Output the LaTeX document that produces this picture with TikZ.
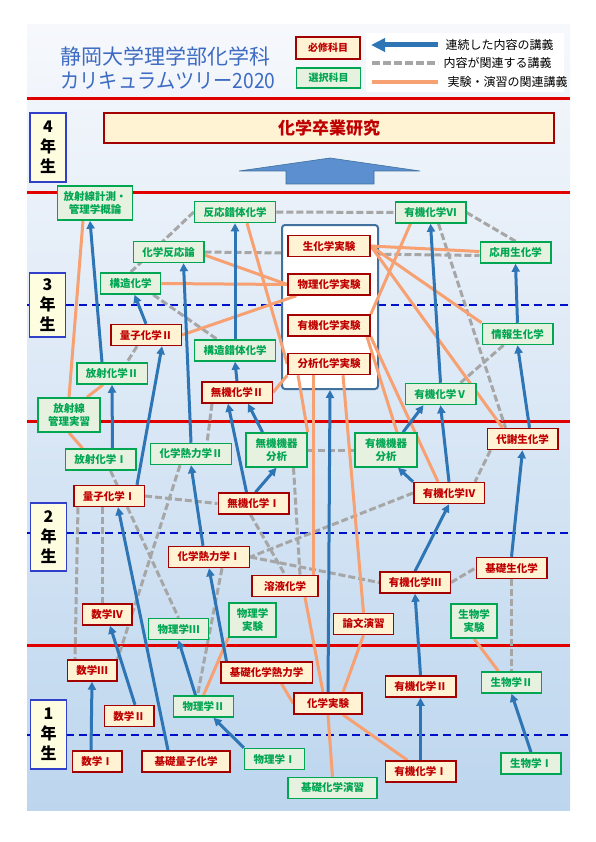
\documentclass[tikz,border=0pt]{standalone}
\usepackage{fontspec}
\usepackage{graphicx}
\setmainfont{Noto Sans CJK JP}
\usetikzlibrary{arrows.meta}
\pgfdeclarelayer{bg}
\pgfdeclarelayer{dash}
\pgfdeclarelayer{box}
\pgfdeclarelayer{lines}
\pgfsetlayers{bg,dash,box,lines,main}

\definecolor{hred}{HTML}{A50000}
\definecolor{htext}{HTML}{C00000}
\definecolor{hfill}{HTML}{FFF3D4}
\definecolor{sgreen}{HTML}{00A651}
\definecolor{sfill}{HTML}{E6F2DF}
\definecolor{arrowblue}{HTML}{2E75B6}
\definecolor{dashgray}{HTML}{A6A6A6}
\definecolor{exporange}{HTML}{F7A072}
\definecolor{titleblue}{HTML}{3D6BC3}
\definecolor{linered}{HTML}{E00000}
\definecolor{lineblue}{HTML}{0010C8}
\definecolor{yearblue}{HTML}{3040C8}
\definecolor{boxedge}{HTML}{41719C}
\definecolor{bgtop}{HTML}{F6F8FC}
\definecolor{bgbot}{HTML}{BDD6EE}
\definecolor{bigarrow}{HTML}{5B8FD0}

\begin{document}
\begin{tikzpicture}[x=1pt, y=-1pt,
  font=\fontsize{10.5}{13}\selectfont\bfseries,
  req/.style={draw=hred, fill=hfill, text=htext, line width=1.5pt, minimum height=21pt, inner xsep=9pt, inner ysep=2pt},
  opt/.style={draw=sgreen, fill=sfill, text=sgreen, line width=1.5pt, minimum height=21pt, inner xsep=9pt, inner ysep=2pt},
  two/.style={align=center, minimum height=34pt, inner xsep=6pt, font=\fontsize{10.5}{12.5}\selectfont\bfseries},
  yearbox/.style={draw=yearblue, fill=yellow!12, line width=1.5pt, text=black, align=center, inner sep=0pt, minimum width=36pt, font=\fontsize{16}{20}\selectfont\bfseries},
  renzoku/.style={draw=arrowblue, line width=3pt, -{Triangle[length=8pt,width=8pt]}},
  kanren/.style={draw=dashgray, line width=3pt, dash pattern=on 7pt off 3pt},
  jisshu/.style={draw=exporange, line width=3pt}]

\useasboundingbox (0,0) rectangle (596,842);

\begin{pgfonlayer}{bg}
\shade[top color=bgtop, bottom color=bgbot] (27,25) rectangle (570,810);
\fill[white] (366,33) rectangle (564,92);
\foreach \y in {99,193,421,645}
  \draw[linered, line width=3pt] (27,\y) -- (570,\y);
\foreach \y in {305,533,735}
  \draw[lineblue, line width=2pt, dash pattern=on 8pt off 5pt] (27,\y) -- (570,\y);
\filldraw[fill=bigarrow, draw=boxedge, line width=0.6pt] (330,158) -- (420,171) -- (374,171) -- (374,184)
  -- (286,184) -- (286,171) -- (239,171) -- cycle;
\end{pgfonlayer}

% title and legend
\node[anchor=west, text=titleblue, font=\fontsize{21}{24}\selectfont] (title1) at (57,56) {静岡大学理学部化学科};
\node[anchor=west, text=titleblue, font=\fontsize{21}{24}\selectfont] (title2) at (57,81) {\scalebox{0.915}[1]{カリキュラムツリー2020}};
\node[req, minimum width=64pt, minimum height=22pt, font=\fontsize{10}{12}\selectfont\bfseries] (hisshu) at (328,48) {必修科目};
\node[opt, minimum width=64pt, minimum height=20pt, font=\fontsize{10}{12}\selectfont\bfseries] (sentaku) at (328.5,78) {選択科目};
\coordinate (l1a) at (438,45);
\coordinate (l1b) at (371,45);
\coordinate (l2a) at (372,63);
\coordinate (l2b) at (438,63);
\coordinate (l3a) at (372,82);
\coordinate (l3b) at (438,82);
\draw[renzoku, line width=5pt, -{Triangle[length=14pt,width=13pt]}] (l1a) -- (l1b);
\draw[kanren, line width=4pt, dash pattern=on 8pt off 3pt] (l2a) -- (l2b);
\draw[jisshu, line width=4pt] (l3a) -- (l3b);
\node[anchor=west, font=\fontsize{12}{14}\selectfont] (l1t) at (442,45) {連続した内容の講義};
\node[anchor=west, font=\fontsize{12}{14}\selectfont] (l2t) at (440,63) {内容が関連する講義};
\node[anchor=west, font=\fontsize{12}{14}\selectfont] (l3t) at (444,82) {実験・演習の関連講義};

% years
\node[yearbox, minimum height=69pt] (nen4) at (48,147.5) {4\\年\\生};
\node[yearbox, minimum height=64pt] (nen3) at (47.5,305) {3\\年\\生};
\node[yearbox, minimum height=68pt] (nen2) at (48.5,537) {2\\年\\生};
\node[yearbox, minimum height=69pt] (nen1) at (48.5,734.5) {1\\年\\生};

\node[req, minimum width=450pt, minimum height=30pt, line width=2pt, font=\fontsize{17}{20}\selectfont\bfseries] (sotsuken) at (329,128) {化学卒業研究};

\begin{pgfonlayer}{box}
\node[draw=boxedge, fill=white, line width=2pt, rounded corners=3pt, minimum width=96pt, minimum height=164pt] (jikken) at (330,307) {};
\end{pgfonlayer}

% elective
\node[opt, two] (keisoku) at (95,203) {放射線計測・\\管理学概論};
\node[opt] (hannosakutai) at (235,212) {反応錯体化学};
\node[opt] (yuki6) at (430.5,212.5) {有機化学Ⅵ};
\node[opt] (hannoron) at (168.5,252) {化学反応論};
\node[opt] (oyoseika) at (515.5,252.5) {応用生化学};
\node[opt] (kozo) at (130.5,283.5) {構造化学};
\node[opt] (johoseika) at (517.5,334) {情報生化学};
\node[opt] (kozosakutai) at (235,350.5) {構造錯体化学};
\node[opt] (hosha2) at (112,373.5) {放射化学Ⅱ};
\node[opt] (yuki5) at (440.5,394) {有機化学Ⅴ};
\node[opt, two, minimum width=62pt] (kanrijisshu) at (69,415) {放射線\\管理実習};
\node[opt] (hosha1) at (100.5,459.5) {放射化学Ⅰ};
\node[opt] (netsu2) at (191,454) {化学熱力学Ⅱ};
\node[opt, two, minimum width=61pt] (mukikiki) at (276.5,450) {無機機器\\分析};
\node[opt, two, minimum width=62pt] (yukikiki) at (386,450) {有機機器\\分析};
\node[opt] (butsuri3) at (178.5,629) {物理学Ⅲ};
\node[opt, two, minimum width=47pt] (butsurijikken) at (252.5,620) {物理学\\実験};
\node[opt, two, minimum width=46pt] (seibutsujikken) at (474,621) {生物学\\実験};
\node[opt] (butsuri2) at (203.5,706.5) {物理学Ⅱ};
\node[opt] (seibutsu2) at (511.5,682.5) {生物学Ⅱ};
\node[opt] (butsuri1) at (274.5,759) {物理学Ⅰ};
\node[opt] (seibutsu1) at (531,763.5) {生物学Ⅰ};
\node[opt, minimum width=89pt] (kisoenshu) at (332.5,788) {基礎化学演習};

% required
\node[req, minimum width=82pt] (seikajikken) at (329,246) {生化学実験};
\node[req, minimum width=82pt] (butsurikajikken) at (329,284.5) {物理化学実験};
\node[req, minimum width=82pt] (yukijikken) at (329,325.5) {有機化学実験};
\node[req, minimum width=82pt] (bunsekijikken) at (329,364) {分析化学実験};
\node[req] (ryoshi2) at (146,335) {量子化学Ⅱ};
\node[req] (muki2) at (237,392.5) {無機化学Ⅱ};
\node[req] (taisha) at (522.5,439) {代謝生化学};
\node[req] (ryoshi1) at (109,496) {量子化学Ⅰ};
\node[req] (muki1) at (253.5,503.5) {無機化学Ⅰ};
\node[req] (yuki4) at (449,493) {有機化学Ⅳ};
\node[req] (netsu1) at (209,557) {化学熱力学Ⅰ};
\node[req, minimum width=66pt] (yoeki) at (285,586) {溶液化学};
\node[req] (yuki3) at (415,582.5) {有機化学Ⅲ};
\node[req] (kisoseika) at (511.5,568) {基礎生化学};
\node[req] (sugaku4) at (107,614.5) {数学Ⅳ};
\node[req] (ronbun) at (363.5,624) {論文演習};
\node[req] (sugaku3) at (92,670.5) {数学Ⅲ};
\node[req] (kisonetsu) at (266.5,672.5) {基礎化学熱力学};
\node[req] (yuki2) at (420.5,686.5) {有機化学Ⅱ};
\node[req] (sugaku2) at (129,716) {数学Ⅱ};
\node[req, minimum width=68pt] (kagakujikken) at (328,703.5) {化学実験};
\node[req] (sugaku1) at (97,761.5) {数学Ⅰ};
\node[req, minimum width=88pt] (kisoryoshi) at (186,761.5) {基礎量子化学};
\node[req] (yuki1) at (420.5,771.5) {有機化学Ⅰ};

\begin{pgfonlayer}{dash}
\draw[kanren] (hannosakutai.west) -- (kozo.north);
\draw[kanren] (hannoron.east) -- ([yshift=-3pt]oyoseika.west);
\draw[kanren] (hannosakutai.east) -- (yuki6.west);
\draw[kanren] ([xshift=-8pt]kozo.south east) -- ([xshift=-18pt]kozosakutai.north);
\draw[kanren] (yuki6.east) -- (oyoseika.north);
\draw[kanren] ([xshift=8pt]yuki6.south) -- ([xshift=-17pt]taisha.north);
\draw[kanren] ([xshift=-14pt]johoseika.south) -- ([xshift=20pt]yuki5.north);
\draw[kanren] ([xshift=-32pt]taisha.south) -- ([xshift=26pt]yuki4.north);
\draw[kanren] (yuki4.west) -- (netsu1.east);
\draw[kanren] (netsu1.east) -- (yuki3.west);
\draw[kanren] (yuki3.east) -- (kisoseika.west);
\draw[kanren] (kisoseika.south) -- (seibutsu2.north);
\draw[kanren] (mukikiki.east) -- (yukikiki.west);
\draw[kanren] ([xshift=17pt]mukikiki.south) -- ([xshift=15pt]yoeki.north);
\draw[kanren] ([xshift=-3pt]muki1.south) -- (yoeki.north);
\draw[kanren] ([xshift=-25pt]muki2.south) -- ([xshift=16pt]netsu2.north);
\draw[kanren] ([xshift=-9pt]ryoshi2.south) -- ([xshift=15pt]hosha2.north);
\draw[kanren] (ryoshi1.east) -- (muki1.west);
\draw[kanren] ([xshift=5pt]ryoshi1.south west) -- ([xshift=-17pt]sugaku3.north);
\draw[kanren] ([xshift=-7pt]ryoshi1.south) -- ([xshift=-5pt]sugaku4.north);
\draw[kanren] ([xshift=-11pt]netsu2.south) -- (sugaku3.north east);
\draw[kanren] ([xshift=10pt]hosha1.south) -- (butsuri3.north);
\draw[kanren] ([xshift=13pt]netsu1.south) -- ([xshift=-6pt]butsuri2.north);
\end{pgfonlayer}

\begin{pgfonlayer}{lines}
\draw[jisshu] (kanrijisshu.north) -- ([xshift=-12pt]keisoku.south);
\draw[jisshu] ([xshift=18pt]kanrijisshu.north) -- ([xshift=-9pt]hosha2.south);
\draw[jisshu] (kanrijisshu.south) -- ([xshift=-18pt]hosha1.north);
\draw[jisshu] ([yshift=-3pt]hannoron.east) -- (butsurikajikken.west);
\draw[jisshu] (kozo.east) -- (butsurikajikken.west);
\draw[jisshu] (ryoshi2.east) -- ([xshift=9pt]butsurikajikken.south west);
\draw[jisshu] ([xshift=12pt]hannosakutai.south) -- (bunsekijikken.west);
\draw[jisshu] (muki2.east) -- (bunsekijikken.south west);
\draw[jisshu] (mukikiki.north east) -- ([xshift=-31pt]bunsekijikken.south);
\draw[jisshu] ([xshift=-16pt]bunsekijikken.south) -- ([xshift=28pt]yoeki.north);
\draw[jisshu] ([xshift=14pt]bunsekijikken.south) -- (ronbun.north);
\draw[jisshu] ([xshift=38pt]yukijikken.south) -- ([xshift=11pt]yukikiki.north);
\draw[jisshu] (yukijikken.south east) -- ([xshift=-11pt]yuki4.north);
\draw[jisshu] (yukijikken.north east) -- ([xshift=-20pt]yuki6.south);
\draw[jisshu] (seikajikken.east) -- ([yshift=1pt]oyoseika.west);
\draw[jisshu] (seikajikken.east) -- (johoseika.north west);
\draw[jisshu] (seikajikken.east) -- ([xshift=-20pt]taisha.north);
\draw[jisshu] ([xshift=20pt]yoeki.south) -- ([xshift=-5pt]kagakujikken.north);
\draw[jisshu] (ronbun.south) -- ([xshift=15pt]kagakujikken.north);
\draw[jisshu] (kagakujikken.south) -- (kisoenshu.north);
\draw[jisshu] ([xshift=15pt]kagakujikken.south) -- ([xshift=-13pt]yuki1.north);
\draw[jisshu] (kagakujikken.west) -- ([xshift=15pt]kisonetsu.south);
\draw[jisshu] (butsuri2.north) -- (butsurijikken.south west);
\draw[jisshu] (seibutsujikken.south) -- ([xshift=-13pt]seibutsu2.north);

\draw[renzoku] ([xshift=-10pt]hosha2.north) -- ([xshift=-5pt]keisoku.south);
\draw[renzoku] ([xshift=12pt]hosha1.north) -- (hosha2.south);
\draw[renzoku] ([xshift=28pt]ryoshi1.north) -- ([xshift=16pt]ryoshi2.south);
\draw[renzoku] (ryoshi2.north) -- ([xshift=4pt]kozo.south);
\draw[renzoku] (netsu2.north) -- ([xshift=15pt]hannoron.south);
\draw[renzoku] (kozosakutai.north) -- (hannosakutai.south);
\draw[renzoku] (muki2.north) -- (kozosakutai.south);
\draw[renzoku] ([xshift=-7pt]muki1.north) -- ([xshift=-9pt]muki2.south);
\draw[renzoku] ([xshift=-14pt]mukikiki.north) -- ([xshift=11pt]muki2.south);
\draw[renzoku] ([xshift=2pt]muki1.north) -- (mukikiki.south);
\draw[renzoku] ([xshift=-6pt]netsu1.north) -- (netsu2.south);
\draw[renzoku] ([xshift=-40pt]kisonetsu.north) -- (netsu1.south);
\draw[renzoku] ([xshift=-18pt]kisoryoshi.north) -- ([xshift=9pt]ryoshi1.south);
\draw[renzoku] ([xshift=-6pt]sugaku1.north) -- (sugaku3.south);
\draw[renzoku] ([xshift=6pt]sugaku2.north) -- ([xshift=3pt]sugaku4.south);
\draw[renzoku] ([xshift=-8pt]butsuri2.north) -- (butsuri3.south);
\draw[renzoku] (butsuri1.north west) -- ([xshift=10pt]butsuri2.south);
\draw[renzoku] (kagakujikken.north) -- (jikken.south);
\draw[renzoku] (yuki1.north) -- (yuki2.south);
\draw[renzoku] (yuki2.north) -- (yuki3.south);
\draw[renzoku] (yuki3.north) -- (yuki4.south);
\draw[renzoku] (yuki4.north west) -- ([xshift=12pt]yukikiki.south);
\draw[renzoku] (yuki4.north) -- (yuki5.south);
\draw[renzoku] ([xshift=17pt]yukikiki.north) -- ([xshift=-17pt]yuki5.south);
\draw[renzoku] (yuki5.north) -- (yuki6.south);
\draw[renzoku] ([xshift=7pt]taisha.north) -- (johoseika.south);
\draw[renzoku] (johoseika.north) -- (oyoseika.south);
\draw[renzoku] (kisoseika.north) -- (taisha.south);
\draw[renzoku] (seibutsu1.north) -- (seibutsu2.south);
\end{pgfonlayer}

\end{tikzpicture}
\end{document}
